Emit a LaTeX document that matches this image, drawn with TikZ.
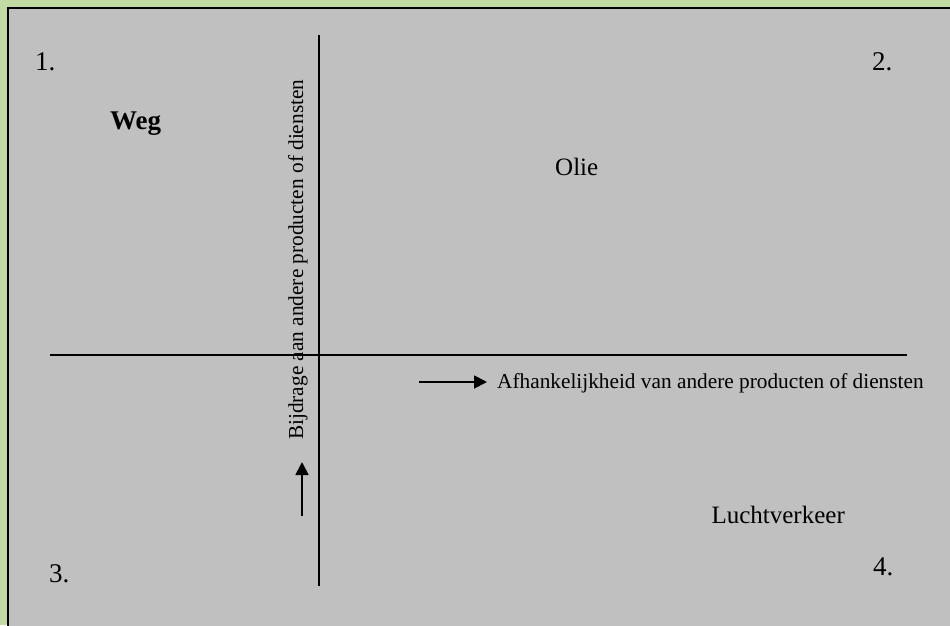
\documentclass[tikz,border=0pt]{standalone}
\usepackage{fontspec}
\setmainfont{Liberation Serif}
\usetikzlibrary{arrows.meta}
\begin{document}
\begin{tikzpicture}[x=1pt,y=-1pt,
  axis/.style={line width=1.7pt, black},
  pointer/.style={line width=1.8pt, -{Triangle[length=13pt,width=13pt]}},
  lbl/.style={inner sep=0pt, font=\fontsize{21.3}{24}\selectfont},
  num/.style={inner sep=0pt, anchor=base west, font=\fontsize{27}{30}\selectfont},
  word/.style={inner sep=0pt, anchor=base west}]
\useasboundingbox (0,0) rectangle (950,625);
\clip (0,0) rectangle (950,625);
% frame: green margin, grey panel with black edge
\fill[fill={rgb,255:red,194;green,218;blue,164}] (0,0) rectangle (950,625);
\draw[line width=2pt, fill={rgb,255:red,192;green,192;blue,192}] (8,8) rectangle (960,635);
% axes
\coordinate (vt) at (319,35);
\coordinate (vb) at (319,586);
\coordinate (hl) at (50,355);
\coordinate (hr) at (907,355);
\draw[axis] (vt) -- (vb);
\draw[axis] (hl) -- (hr);
% quadrant numbers
\node[num] (n1) at (35,70) {1.};
\node[num] (n2) at (872,70) {2.};
\node[num] (n3) at (49,582) {3.};
\node[num] (n4) at (873,575) {4.};
% entries
\node[word, font=\fontsize{27}{30}\selectfont\bfseries] (weg) at (110,129) {Weg};
\node[word, font=\fontsize{25}{28}\selectfont] (olie) at (555,175) {Olie};
\node[word, font=\fontsize{25}{28}\selectfont, anchor=base east] (lucht) at (845,523) {Luchtverkeer};
% axis captions with their arrows
\node[lbl, anchor=base west] (hlab) at (497,388) {Afhankelijkheid van andere producten of diensten};
\coordinate (ha) at (419,382);
\coordinate (htip) at (487,382);
\draw[pointer] (ha) -- (htip);
\node[lbl, anchor=base west, rotate=90] (vlab) at (303,440) {Bijdrage aan andere producten of diensten};
\coordinate (va) at (302,516);
\coordinate (vtip) at (302,462);
\draw[pointer] (va) -- (vtip);
\end{tikzpicture}
\end{document}
